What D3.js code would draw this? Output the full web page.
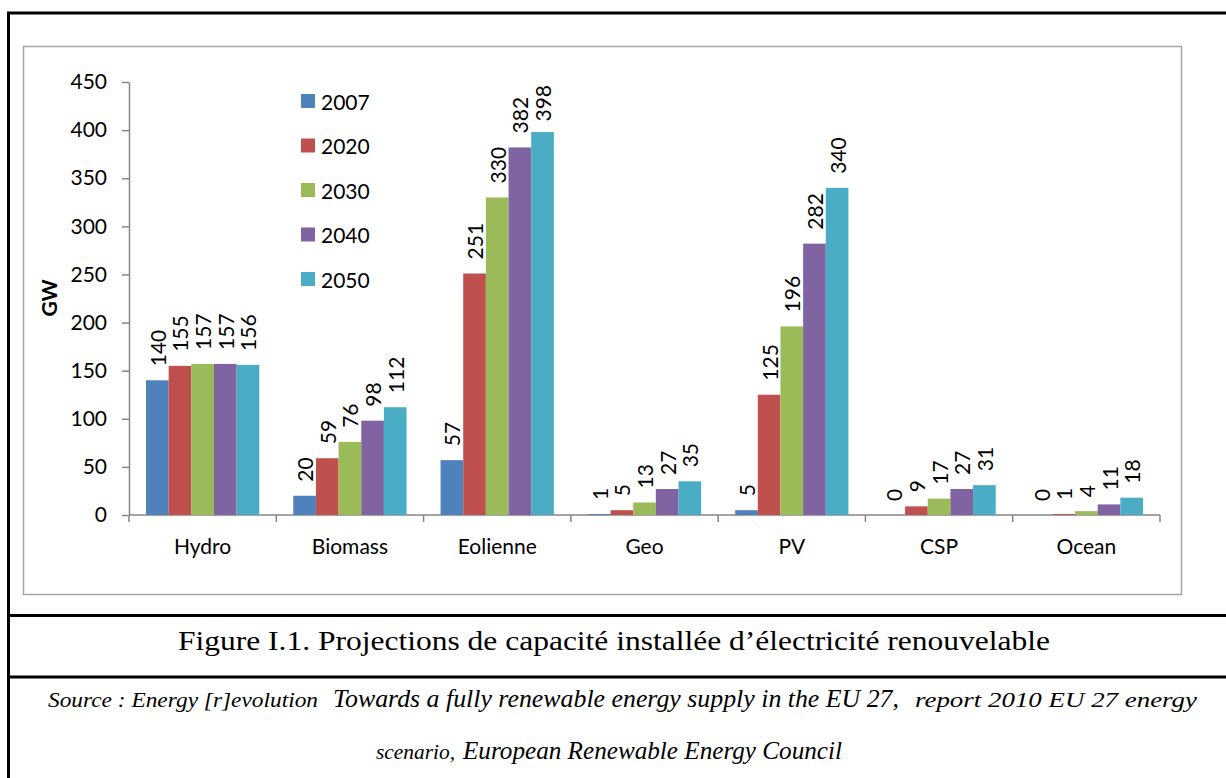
<!DOCTYPE html>
<html>
<head>
<meta charset="utf-8">
<script src="https://cdn.jsdelivr.net/npm/d3@7"></script>
<style>
  body { margin: 0; background: #fff; }
  svg { display: block; }
</style>
</head>
<body>
<div id="chart"></div>
<script>
// data
const categories = ['Hydro', 'Biomass', 'Eolienne', 'Geo', 'PV', 'CSP', 'Ocean']
const years = ['2007', '2020', '2030', '2040', '2050']
const values = {
    '2007': [140, 20, 57, 1, 5, 0, 0],
    '2020': [155, 59, 251, 5, 125, 9, 1],
    '2030': [157, 76, 330, 13, 196, 17, 4],
    '2040': [157, 98, 382, 27, 282, 27, 11],
    '2050': [156, 112, 398, 35, 340, 31, 18]
}
const y_ticks = [0, 50, 100, 150, 200, 250, 300, 350, 400, 450]
const colors = ['#4F81BD', '#C0504D', '#9BBB59', '#8064A2', '#4BACC6']

// constants
const W = 1226
const H = 778
const plot = {left: 129, right: 1160, top: 82, bottom: 515}
const font_chart = 'Lato, "Open Sans", sans-serif'
const font_caption = '"Liberation Serif", "DejaVu Serif", serif'
const fs = 21
const axis_color = '#868686'

const svg = d3.select('#chart')
    .append('svg')
        .attr('width', W)
        .attr('height', H)

svg.append('rect')
    .attr('width', W)
    .attr('height', H)
    .attr('fill', '#fff')

// outer frame (black)
const frame = svg.append('g')
    .attr('stroke', '#000')
    .attr('stroke-width', 3)
frame.append('line').attr('x1', 7).attr('x2', W).attr('y1', 13).attr('y2', 13)
frame.append('line').attr('x1', 8.5).attr('x2', 8.5).attr('y1', 12).attr('y2', H)
frame.append('line').attr('x1', 7).attr('x2', W).attr('y1', 615.5).attr('y2', 615.5)
frame.append('line').attr('x1', 7).attr('x2', W).attr('y1', 677).attr('y2', 677)

// chart area border (gray)
svg.append('rect')
    .attr('x', 23.5)
    .attr('y', 46.5)
    .attr('width', 1158)
    .attr('height', 548)
    .attr('fill', 'none')
    .attr('stroke', '#A6A6A6')
    .attr('stroke-width', 1.5)

// scales
const x0 = d3.scaleBand()
    .domain(categories)
    .range([plot.left, plot.right])
const x1 = d3.scaleBand()
    .domain(years)
    .range([0, x0.bandwidth()])
    .paddingInner(0)
    .paddingOuter(0.75)
const y = d3.scaleLinear()
    .domain([0, 450])
    .range([plot.bottom, plot.top])

// y axis
const yAxis = svg.append('g')
    .attr('transform', `translate(${plot.left}, 0)`)
    .call(d3.axisLeft(y)
            .tickValues(y_ticks)
            .tickSize(7)
            .tickSizeOuter(0)
            .tickPadding(15))
yAxis.select('.domain').attr('stroke', axis_color).attr('stroke-width', 1.5)
yAxis.selectAll('.tick line').attr('stroke', axis_color).attr('stroke-width', 1.5)
yAxis.selectAll('.tick text')
    .attr('font-family', font_chart)
    .attr('font-size', fs)
    .attr('fill', '#000')

// x axis, ticks at category boundaries
const xAxisG = svg.append('g')
    .attr('transform', `translate(0, ${plot.bottom})`)
xAxisG.append('line')
    .attr('x1', plot.left)
    .attr('x2', plot.right)
    .attr('stroke', axis_color)
    .attr('stroke-width', 1.5)
const boundaries = categories.map(c => x0(c)).concat([plot.right])
xAxisG.selectAll('line.tk')
    .data(boundaries)
    .join('line')
        .attr('class', 'tk')
        .attr('x1', d => d)
        .attr('x2', d => d)
        .attr('y1', 0)
        .attr('y2', 7)
        .attr('stroke', axis_color)
        .attr('stroke-width', 1.5)
xAxisG.selectAll('text')
    .data(categories)
    .join('text')
        .attr('x', d => x0(d) + x0.bandwidth() / 2)
        .attr('y', 39)
        .attr('text-anchor', 'middle')
        .attr('font-family', font_chart)
        .attr('font-size', fs)
        .attr('fill', '#000')
        .text(d => d)

// y title
svg.append('text')
    .attr('transform', 'translate(57, 298) rotate(-90)')
    .attr('text-anchor', 'middle')
    .attr('font-family', font_chart)
    .attr('font-size', fs)
    .attr('font-weight', 'bold')
    .text('GW')

// bars
const rows = []
years.forEach((yr, i) => {
    categories.forEach((cat, j) => {
        rows.push({year: yr, cat: cat, value: values[yr][j], color: colors[i]})
    })
})

svg.append('g')
    .selectAll('rect')
    .data(rows)
    .join('rect')
        .attr('x', d => x0(d.cat) + x1(d.year))
        .attr('y', d => y(d.value))
        .attr('width', x1.bandwidth())
        .attr('height', d => plot.bottom - y(d.value))
        .attr('fill', d => d.color)

// value labels, rotated
const labels = svg.append('g')
    .selectAll('text')
    .data(rows)
    .join('text')
        .attr('font-family', font_chart)
        .attr('font-size', fs)
        .attr('fill', '#000')
        .attr('dominant-baseline', 'central')
        .text(d => d.value)
labels.each(function (d) {
    const len = this.getComputedTextLength()
    let base = y(d.value) - 14
    if (base - len < 85) base = 85 + len
    const cx = x0(d.cat) + x1(d.year) + x1.bandwidth() / 2
    d3.select(this).attr('transform', `translate(${cx}, ${base}) rotate(-90)`)
})

// legend
const legend = svg.append('g')
    .selectAll('g')
    .data(years)
    .join('g')
        .attr('transform', (d, i) => `translate(301, ${101 + i * 44.5})`)
legend.append('rect')
    .attr('x', 0)
    .attr('y', -7)
    .attr('width', 14)
    .attr('height', 14)
    .attr('fill', (d, i) => colors[i])
legend.append('text')
    .attr('x', 20)
    .attr('y', 0)
    .attr('dominant-baseline', 'central')
    .attr('font-family', font_chart)
    .attr('font-size', fs)
    .text(d => d)

// caption
svg.append('text')
    .attr('x', 178)
    .attr('y', 650)
    .attr('font-family', font_caption)
    .attr('font-size', 28)
    .attr('textLength', 872)
    .attr('lengthAdjust', 'spacingAndGlyphs')
    .text('Figure I.1.  Projections de capacité installée d’électricité renouvelable')

// source lines
const source_parts = [
    {text: 'Source : Energy [r]evolution', x: 48, y: 707, size: 21, len: 270},
    {text: 'Towards a fully renewable energy supply in the EU 27,', x: 333, y: 707, size: 25, len: 566},
    {text: 'report 2010 EU 27 energy', x: 915, y: 707, size: 21, len: 282},
    {text: 'scenario,', x: 376, y: 759, size: 21, len: 79},
    {text: 'European Renewable Energy Council', x: 463, y: 759, size: 25, len: 379}
]
svg.append('g')
    .selectAll('text')
    .data(source_parts)
    .join('text')
        .attr('x', d => d.x)
        .attr('y', d => d.y)
        .attr('font-family', font_caption)
        .attr('font-style', 'italic')
        .attr('font-size', d => d.size)
        .attr('textLength', d => d.len)
        .attr('lengthAdjust', 'spacingAndGlyphs')
        .text(d => d.text)
</script>
</body>
</html>
